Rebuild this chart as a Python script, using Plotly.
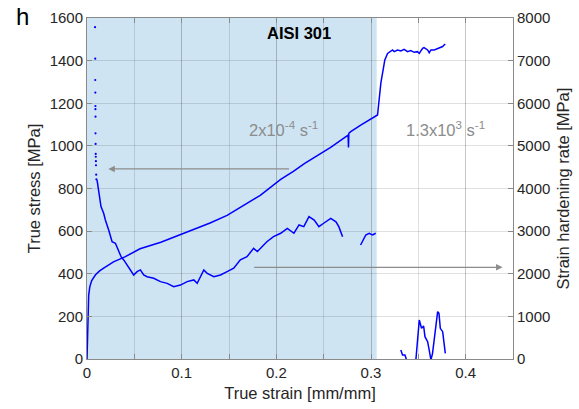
import plotly.graph_objects as go

# ---------------- data ----------------
# True stress-strain curve (left axis, MPa)
stress_strain = [0, 0.0004, 0.0007, 0.0012, 0.0018, 0.003, 0.005, 0.009, 0.013, 0.018,
                 0.028, 0.04, 0.056, 0.078, 0.1, 0.113, 0.13, 0.148, 0.165, 0.183,
                 0.2046, 0.218, 0.23, 0.245, 0.2574, 0.2758,
                 0.2762, 0.2766, 0.2786, 0.29, 0.3069, 0.3104, 0.3146, 0.3175,
                 0.3228, 0.3245, 0.328, 0.3316, 0.335, 0.3386, 0.342, 0.3456,
                 0.349, 0.351, 0.3527, 0.3545, 0.356, 0.3598, 0.3615, 0.3633,
                 0.3668, 0.3704, 0.3739, 0.3757, 0.3774, 0.3785]
true_stress = [0, 120, 200, 260, 300, 340, 368, 395, 412, 428,
               456, 479, 517, 548, 586, 607, 638, 674, 718, 768,
               843, 880, 918, 960, 993, 1050,
               993, 1059, 1067, 1100, 1145, 1294, 1403, 1434,
               1450, 1442, 1450, 1445, 1453, 1442, 1447, 1439,
               1442, 1434, 1447, 1458, 1461, 1450, 1437, 1450,
               1450, 1458, 1463, 1466, 1474, 1477]

# Strain hardening rate (right axis, MPa) - scattered initial points
rate_dot_strain = [0.0085, 0.0087, 0.0087, 0.0088, 0.0089, 0.0089, 0.009, 0.009,
                   0.0091, 0.0092, 0.0093, 0.0094, 0.0095, 0.0097, 0.0099]
rate_dot_value = [7785, 7045, 6545, 6250, 5935, 5860, 5685, 5295,
                  5045, 4810, 4745, 4640, 4545, 4325, 4215]

# Strain hardening rate curve (right axis, MPa); None marks gaps
rate_strain = [0.0106, 0.0123, 0.0148, 0.0176, 0.0194, 0.0229, 0.0265, 0.0300,
               0.0335, 0.0360, 0.0388, 0.0423, 0.0458, 0.0493, 0.0529, 0.0564,
               0.0599, 0.0635, 0.0705, 0.0776, 0.0847, 0.0916, 0.0987, 0.1058,
               0.1128, 0.1164, 0.1234, 0.127, 0.134, 0.141, 0.148, 0.155,
               0.162, 0.169, 0.176, 0.18, 0.19, 0.197, 0.2046, 0.2116, 0.2186,
               0.224, 0.229, 0.2345, 0.24, 0.245, 0.25, 0.2575, 0.263, 0.266,
               0.27, None,
               0.289, 0.2945, 0.298, 0.3016, 0.305, None,
               0.3315, 0.3333, 0.3358, 0.337, 0.340, 0.344, 0.3474, 0.3492,
               0.351, 0.3534, 0.3556, 0.357, 0.3598, 0.3615, 0.3633, 0.365,
               0.3668, 0.3686, 0.3704, 0.3718, 0.3732, 0.3757, 0.3774, 0.3785]
rate_value = [4200, 3890, 3575, 3420, 3260, 3025, 2750, 2715,
              2520, 2400, 2325, 2205, 2090, 1970, 2050, 2090,
              1970, 1930, 1895, 1815, 1775, 1695, 1735, 1815,
              1855, 1775, 2090, 2010, 1930, 1970, 2050, 2130,
              2325, 2400, 2595, 2520, 2750, 2870, 2950, 3065, 2950,
              3145, 3105, 3340, 3260, 3105, 3185, 3300, 3220, 3105,
              2870, None,
              2675, 2910, 2950, 2910, 2950, None,
              211, 94, 94, 16, -300, -300, -23, 523,
              915, 720, 774, 523, 406, 211, -23, 133,
              446, 680, 1110, 1071, 720, 641, 368, 133]

x_tick_vals = [0, 0.1, 0.2, 0.3, 0.4]
x_tick_text = ["0", "0.1", "0.2", "0.3", "0.4"]
quasi_static_end = 0.306

# ---------------- figure ----------------
BLUE = "#0000ff"
AX = "#8a8a8a"
TXT = "#262626"
GRID = "rgba(38,38,38,0.14)"
FONT = "Liberation Sans, Arial, sans-serif"

fig = go.Figure()
fig.add_trace(go.Scatter(x=stress_strain, y=true_stress, mode="lines",
                         line=dict(color=BLUE, width=1.5), showlegend=False,
                         yaxis="y"))
fig.add_trace(go.Scatter(x=rate_dot_strain, y=rate_dot_value, mode="markers",
                         marker=dict(color=BLUE, size=2.2), showlegend=False,
                         yaxis="y2"))
fig.add_trace(go.Scatter(x=rate_strain, y=rate_value, mode="lines",
                         line=dict(color=BLUE, width=1.5), showlegend=False,
                         connectgaps=False, yaxis="y2"))

fig.add_shape(type="rect", xref="x", yref="paper", x0=0, x1=quasi_static_end,
              y0=0, y1=1, fillcolor="rgb(206,228,242)", line=dict(width=0),
              layer="below")

fig.update_layout(
    width=579, height=409,
    margin=dict(l=87, r=66, t=18, b=50, autoexpand=False),
    paper_bgcolor="white", plot_bgcolor="white",
    font=dict(family=FONT, size=15, color=TXT),
    xaxis=dict(range=[0, 0.45], tickvals=x_tick_vals, ticktext=x_tick_text,
               ticks="inside", ticklen=5, tickcolor=AX, showline=True,
               linecolor=AX, linewidth=1, mirror="ticks", showgrid=True,
               gridcolor=GRID, zeroline=False, automargin=False,
               minor=dict(dtick=0.05, tick0=0, ticks="inside", ticklen=5,
                          tickcolor=AX, showgrid=True, gridcolor=GRID),
               tickfont=dict(size=15),
               title=dict(text="True strain [mm/mm]", font=dict(size=16.5),
                          standoff=7)),
    yaxis=dict(range=[0, 1600], dtick=200, ticks="inside", ticklen=5,
               tickcolor=AX, showline=True, linecolor=AX, linewidth=1,
               showgrid=True, gridcolor=GRID, zeroline=False, automargin=False,
               tickfont=dict(size=15),
               title=dict(text="True stress [MPa]", font=dict(size=16.5),
                          standoff=4)),
    yaxis2=dict(range=[0, 8000], dtick=1000, overlaying="y", side="right",
                ticks="inside", ticklen=5, tickcolor=AX, showline=True,
                linecolor=AX, linewidth=1, showgrid=False, zeroline=False,
                automargin=False, tickfont=dict(size=15),
                title=dict(text="Strain hardening rate [MPa]",
                           font=dict(size=16.5), standoff=8)),
)

annos = [
    dict(text="<b>AISI 301</b>", x=0.2236, y=1530, xref="x", yref="y",
         showarrow=False, font=dict(size=16.5, color="black")),
    dict(text="2x10<sup>-4</sup> s<sup>-1</sup>", x=0.208, y=1079, xref="x",
         yref="y", showarrow=False, font=dict(size=16.5, color="#8c8c8c")),
    dict(text="1.3x10<sup>3</sup> s<sup>-1</sup>", x=0.379, y=1079, xref="x",
         yref="y", showarrow=False, font=dict(size=16.5, color="#8c8c8c")),
    dict(text="h", x=-0.152, y=1.005, xref="paper", yref="paper",
         showarrow=False, font=dict(size=24, color="black"),
         xanchor="center", yanchor="middle"),
    dict(text="", x=0.0225, y=892, xref="x", yref="y", ax=0.215, ay=892,
         axref="x", ayref="y", showarrow=True, arrowhead=2, arrowsize=1,
         arrowwidth=1.3, arrowcolor="#8c8c8c"),
    dict(text="", x=0.439, y=2150, xref="x", yref="y2", ax=0.175, ay=2150,
         axref="x", ayref="y2", showarrow=True, arrowhead=2, arrowsize=1,
         arrowwidth=1.3, arrowcolor="#8c8c8c"),
]
fig.update_layout(annotations=annos)

fig.write_html("out.html", config={"displayModeBar": False},
               post_script="document.body.style.margin='0';")
